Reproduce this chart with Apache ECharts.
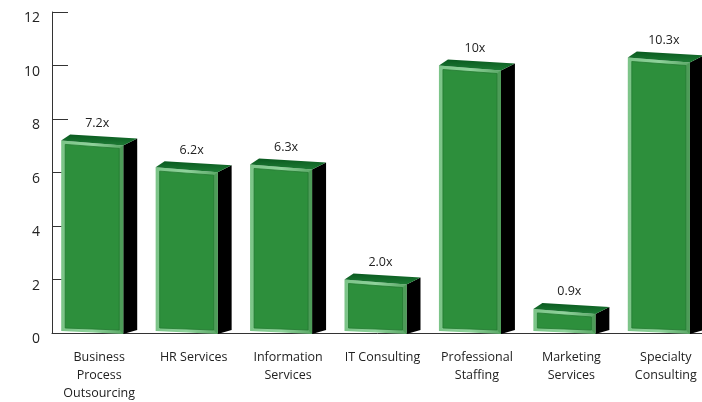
<!DOCTYPE html>
<html><head><meta charset="utf-8">
<script src="https://cdn.jsdelivr.net/npm/echarts@6/dist/echarts.min.js"></script>
<style>html,body{margin:0;padding:0;background:#fff}#c{width:702px;height:402px}</style>
</head><body><div id="c"></div>
<script>
const categories = ["Business\nProcess\nOutsourcing","HR Services","Information\nServices","IT Consulting","Professional\nStaffing","Marketing\nServices","Specialty\nConsulting"];
const values = [7.2, 6.2, 6.3, 2.0, 10, 0.9, 10.3];
const valueLabels = ["7.2x","6.2x","6.3x","2.0x","10x","0.9x","10.3x"];
const yTicks = [0, 2, 4, 6, 8, 10, 12];

const FONT = '"Open Sans", "Noto Sans", sans-serif';
const chart = echarts.init(document.getElementById('c'));

function renderItem(params, api) {
  const idx = api.value(0);
  const top = api.coord([idx, api.value(1)]);
  const base = api.coord([idx, 0]);
  const cx = top[0], yT = top[1], y0 = base[1];
  const L = cx - 38, R = cx + 24, S = R + 14;
  const inset = 4;
  const front = [[L, yT], [R, yT + 5], [R, y0 + 1], [L, y0 - 2]];
  const inner = [[L + inset, yT + inset], [R - inset, yT + inset + 4], [R - inset, y0 - inset + 1], [L + inset, y0 - inset - 1]];
  const topFace = [[L, yT], [L + 9, yT - 6], [S, yT - 2], [R, yT + 5]];
  const side = [[R, yT + 5], [S, yT - 2], [S, y0 - 3], [R, y0 + 1]];
  return {
    type: 'group',
    children: [
      { type: 'polygon', shape: { points: side }, style: { fill: '#000' } },
      { type: 'polygon', shape: { points: front }, style: {
          fill: new echarts.graphic.LinearGradient(0, 0, 1, 0, [
            { offset: 0, color: '#7cc488' }, { offset: 0.5, color: '#8fd39b' }, { offset: 1, color: '#5aa866' }
          ]) } },
      { type: 'polygon', shape: { points: [[R - inset, yT + inset + 4],[R, yT + 5],[R, y0 + 1],[R - inset, y0 - inset + 1]] }, style: { fill: '#4d9c58' } },
      { type: 'polygon', shape: { points: inner }, style: { fill: '#2d8f3c', stroke: '#237a31', lineWidth: 0.8 } },
      { type: 'polygon', shape: { points: topFace }, style: {
          fill: new echarts.graphic.LinearGradient(0, 0, 0, 1, [
            { offset: 0, color: '#0a5a20' }, { offset: 1, color: '#1d7b34' }
          ]) } },
      { type: 'text', x: cx - 2, y: yT - 17, style: {
          text: valueLabels[idx], fill: '#222', font: '12.5px ' + FONT,
          align: 'center', verticalAlign: 'middle' } }
    ]
  };
}

chart.setOption({
  animation: false,
  grid: { left: 52, top: 12, width: 661, height: 321, containLabel: false, outerBoundsMode: 'none' },
  xAxis: {
    type: 'category', data: categories, boundaryGap: true,
    axisLine: { lineStyle: { color: '#333', width: 1 } },
    axisTick: { inside: true, length: 6, lineStyle: { color: '#333' } },
    axisLabel: { color: '#222', fontFamily: FONT, fontSize: 12.5, lineHeight: 18, margin: 15, interval: 0 }
  },
  yAxis: {
    type: 'value', min: 0, max: 12, interval: 2,
    axisLine: { show: true, lineStyle: { color: '#333', width: 1 } },
    axisTick: { show: true, inside: true, length: 16, lineStyle: { color: '#333' } },
    splitLine: { show: false },
    axisLabel: { color: '#222', fontFamily: FONT, fontSize: 14, margin: 12, verticalAlign: 'top', lineHeight: 13,
      formatter: v => yTicks.includes(v) ? String(v) : '' }
  },
  series: [{
    type: 'custom', renderItem: renderItem, clip: false,
    data: values.map((v, i) => [i, v])
  }]
});
</script></body></html>
